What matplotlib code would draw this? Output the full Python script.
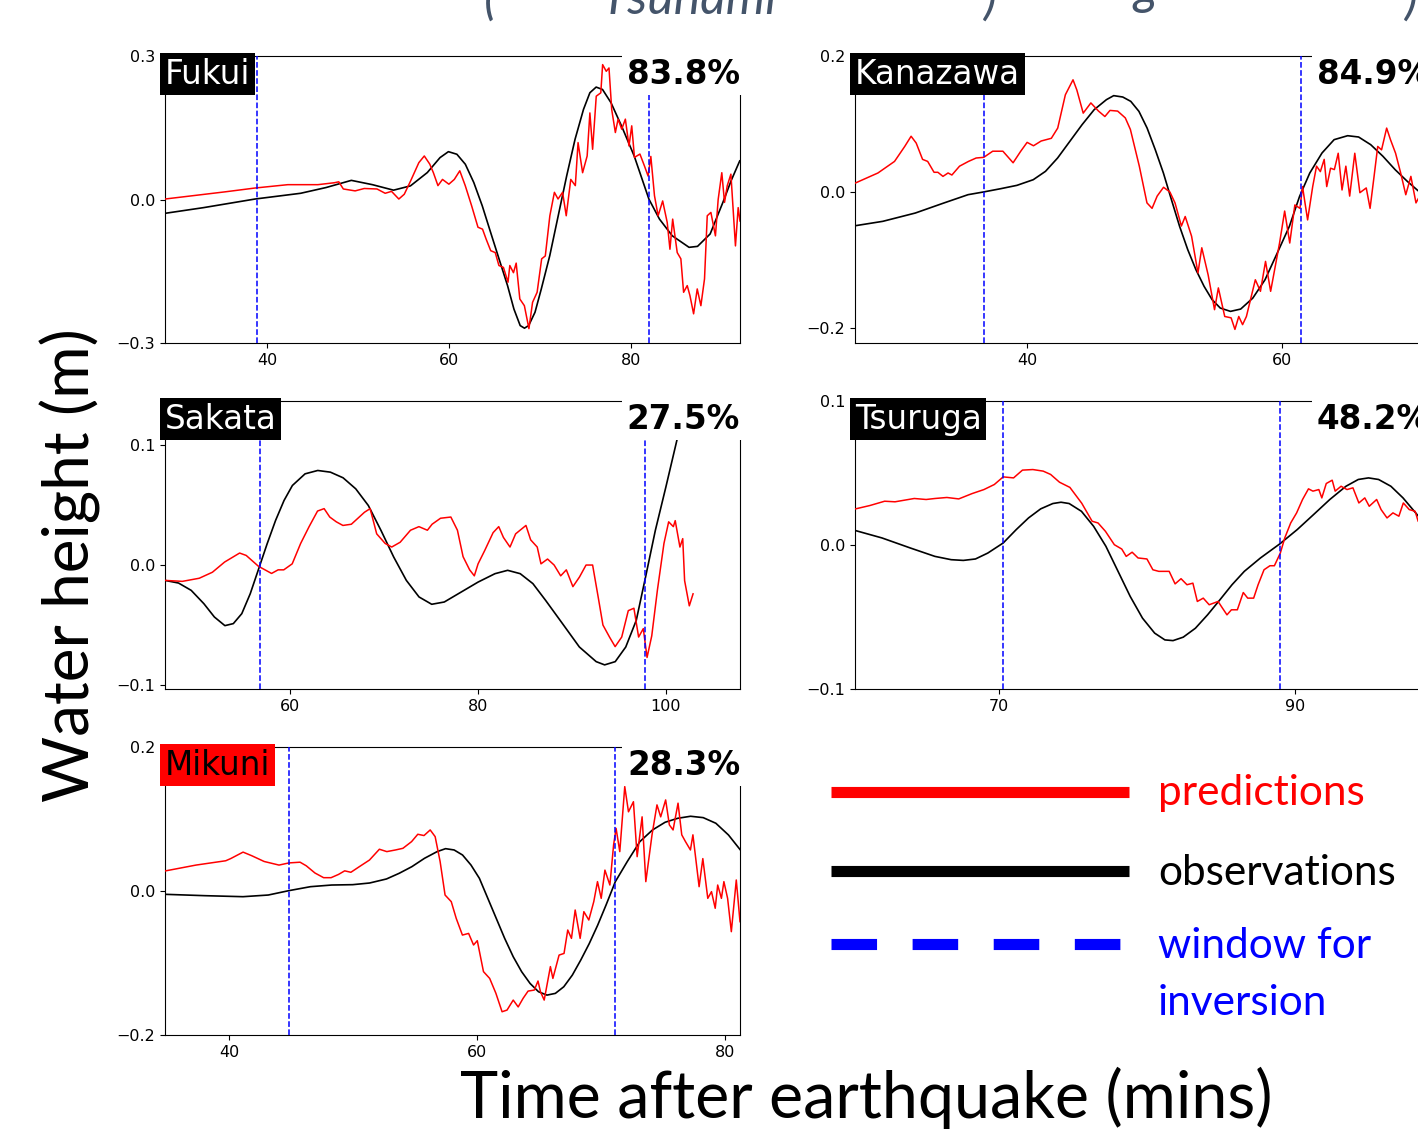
import matplotlib
matplotlib.use("Agg")
import matplotlib.pyplot as plt

W, H = 1418, 1130  # output size in pixels

SLIDE_FONT = ["Lato", "DejaVu Sans"]
TITLE_COLOR = "#44546A"

# ---------------- data ----------------
station_names = ["Fukui", "Kanazawa", "Sakata", "Tsuruga", "Mikuni"]
fit_percent = ["83.8", "84.9", "27.5", "48.2", "28.3"]

fukui_t_obs = [28.77, 33.04, 38.70, 43.71, 46.50, 49.28, 51.60, 53.92, 55.78, 57.63, 59.03, 59.95,
               60.88, 61.81, 62.74, 63.67, 64.59, 65.52, 66.45, 67.15, 67.84, 68.31, 68.77, 69.47,
               70.16, 71.09, 72.02, 72.95, 73.87, 74.80, 75.50, 76.19, 76.89, 77.82, 78.98, 80.37,
               81.99, 83.15, 84.55, 86.40, 87.33, 88.72, 90.12, 91.04, 91.97]
fukui_h_obs = [-0.029, -0.017, 0.001, 0.013, 0.025, 0.040, 0.031, 0.0195, 0.0285, 0.0563, 0.0876,
               0.100, 0.0946, 0.0737, 0.0355, -0.0132, -0.0688, -0.1245, -0.180, -0.229, -0.2636,
               -0.269, -0.2636, -0.2357, -0.187, -0.1175, -0.034, 0.0494, 0.1259, 0.1885, 0.2232,
               0.235, 0.230, 0.2024, 0.1537, 0.091, 0.0007, -0.041, -0.0758, -0.100, -0.098,
               -0.072, -0.006, 0.040, 0.0807]
fukui_t_pred = [28.8, 35.4, 38.7, 42.3, 45.6, 47.4, 47.9, 48.4, 49.7, 50.7, 52.1, 53.0, 53.7, 54.5,
                55.1, 55.8, 56.7, 57.3, 57.9, 58.3, 58.8, 59.3, 60.0, 60.6, 61.2, 61.8, 62.5, 63.2,
                63.7, 64.1, 64.6, 65.1, 65.5, 66.0, 66.5, 66.7, 67.1, 67.4, 67.8, 68.3, 68.8, 69.2,
                69.7, 70.2, 70.6, 71.1, 71.6, 72.0, 72.5, 72.9, 73.4, 73.9, 74.2, 74.7, 75.2, 75.5,
                75.8, 76.2, 76.7, 76.9, 77.3, 77.6, 77.9, 78.3, 78.6, 79.0, 79.4, 79.8, 80.1, 80.4,
                81.0, 81.5, 81.9, 82.2, 82.6, 83.0, 83.5, 84.0, 84.3, 84.6, 85.1, 85.5, 85.8, 86.2,
                86.5, 86.9, 87.3, 87.7, 88.1, 88.4, 88.8, 89.3, 89.6, 90.0, 90.3, 90.6, 91.0, 91.5,
                91.8, 92.0]
fukui_h_pred = [0.001, 0.016, 0.024, 0.031, 0.031, 0.035, 0.037, 0.022, 0.018, 0.023, 0.022, 0.013,
                0.017, 0.001, 0.011, 0.039, 0.077, 0.091, 0.074, 0.056, 0.029, 0.042, 0.032, 0.042,
                0.060, 0.029, -0.013, -0.058, -0.062, -0.083, -0.107, -0.111, -0.138, -0.142,
                -0.173, -0.138, -0.153, -0.133, -0.208, -0.222, -0.270, -0.215, -0.194, -0.124,
                -0.118, -0.034, 0.015, 0.001, 0.015, -0.034, 0.042, 0.029, 0.119, 0.056, 0.091,
                0.181, 0.105, 0.216, 0.223, 0.282, 0.268, 0.275, 0.188, 0.140, 0.168, 0.147, 0.168,
                0.112, 0.154, 0.088, 0.095, 0.070, 0.049, 0.090, 0.008, -0.034, -0.003, -0.048,
                -0.104, -0.041, -0.111, -0.124, -0.194, -0.180, -0.201, -0.239, -0.187, -0.222,
                -0.166, -0.034, -0.027, -0.076, 0.0, 0.056, -0.006, 0.029, 0.053, -0.097, -0.017,
                -0.045]

kanazawa_t_obs = [26.54, 28.68, 31.23, 33.46, 35.37, 36.56, 37.93, 39.20, 40.48, 41.44, 42.39,
                  43.35, 44.31, 45.26, 46.22, 46.79, 47.50, 48.13, 48.77, 49.41, 50.05, 50.69,
                  51.32, 51.96, 52.60, 53.24, 53.88, 54.51, 55.15, 55.95, 56.75, 57.70, 58.66,
                  59.62, 60.57, 61.37, 62.17, 63.13, 64.08, 65.14, 66.00, 66.95, 67.91, 68.87,
                  69.82, 70.72, 71.60]
kanazawa_h_obs = [-0.0495, -0.0431, -0.0309, -0.0162, -0.0039, 0.0, 0.0049, 0.0098, 0.0181,
                  0.0304, 0.0500, 0.0745, 0.0990, 0.1211, 0.1358, 0.1417, 0.1397, 0.1333, 0.1186,
                  0.0941, 0.0623, 0.0279, -0.0113, -0.0505, -0.0848, -0.1142, -0.1387, -0.1583,
                  -0.1706, -0.1755, -0.1721, -0.156, -0.129, -0.0897, -0.0505, -0.0064, 0.0279,
                  0.0574, 0.0770, 0.0828, 0.0809, 0.0696, 0.0525, 0.0328, 0.0157, 0.0010, -0.012]
kanazawa_t_pred = [26.5, 28.3, 29.6, 30.4, 30.9, 31.3, 31.8, 32.2, 32.7, 33.0, 33.4, 33.8, 34.1,
                   34.7, 35.4, 36.0, 36.6, 37.3, 38.1, 38.9, 39.5, 40.0, 40.5, 41.1, 41.9, 42.4,
                   43.0, 43.6, 43.9, 44.4, 45.0, 45.6, 46.1, 46.5, 47.1, 47.7, 48.1, 48.8, 49.4,
                   49.8, 50.2, 50.7, 51.2, 51.6, 52.1, 52.4, 52.9, 53.4, 53.7, 54.2, 54.7, 55.0,
                   55.5, 56.0, 56.3, 56.6, 56.9, 57.2, 57.9, 58.3, 58.7, 59.1, 59.8, 60.2, 60.6,
                   61.0, 61.4, 61.6, 62.0, 62.4, 62.7, 63.0, 63.3, 63.5, 63.8, 64.1, 64.4, 64.7,
                   65.0, 65.3, 65.7, 66.1, 66.6, 66.9, 67.2, 67.5, 67.8, 68.2, 68.5, 68.9, 69.3,
                   69.7, 70.1, 70.5, 70.7, 71.3]
kanazawa_h_pred = [0.013, 0.028, 0.045, 0.067, 0.082, 0.072, 0.048, 0.045, 0.029, 0.029, 0.023,
                   0.028, 0.025, 0.038, 0.045, 0.050, 0.051, 0.060, 0.060, 0.043, 0.060, 0.073,
                   0.068, 0.075, 0.079, 0.094, 0.143, 0.165, 0.150, 0.116, 0.131, 0.119, 0.111,
                   0.120, 0.119, 0.109, 0.092, 0.038, -0.016, -0.024, -0.006, 0.007, 0.0, -0.016,
                   -0.050, -0.036, -0.065, -0.119, -0.082, -0.122, -0.173, -0.141, -0.183, -0.185,
                   -0.202, -0.183, -0.195, -0.183, -0.129, -0.146, -0.102, -0.146, -0.075, -0.028,
                   -0.075, -0.019, -0.024, 0.008, -0.041, 0.008, 0.038, 0.030, 0.048, 0.008, 0.035,
                   0.033, 0.057, 0.003, 0.038, -0.006, 0.057, -0.001, 0.006, -0.024, 0.021, 0.067,
                   0.062, 0.094, 0.077, 0.057, 0.028, -0.004, 0.023, -0.016, -0.009, -0.020]

sakata_t_obs = [46.65, 48.09, 49.44, 50.79, 51.91, 53.03, 53.93, 54.83, 55.73, 56.63, 57.53,
                58.43, 59.33, 60.22, 61.57, 62.92, 64.27, 65.62, 66.97, 68.31, 69.66, 71.01,
                72.36, 73.71, 75.06, 76.40, 78.20, 80.00, 81.80, 83.15, 84.49, 85.84, 87.19,
                88.99, 90.79, 92.58, 93.48, 94.61, 95.73, 96.85, 97.84, 98.88, 100.0, 101.21,
                102.02, 102.9]
sakata_h_obs = [-0.0128, -0.0150, -0.0211, -0.0322, -0.0433, -0.0505, -0.0488, -0.0405, -0.0239,
                -0.0031, 0.0177, 0.0372, 0.0538, 0.0663, 0.0760, 0.0788, 0.0774, 0.0727, 0.0635,
                0.0496, 0.0288, 0.0067, -0.0128, -0.0266, -0.0327, -0.0308, -0.0225, -0.0142,
                -0.0072, -0.0044, -0.0072, -0.0155, -0.0294, -0.0488, -0.0683, -0.0805, -0.0832,
                -0.0805, -0.0683, -0.0461, -0.0100, 0.0288, 0.0649, 0.1051, 0.1287, 0.150]
sakata_t_pred = [46.65, 48.5, 50.3, 51.7, 53.0, 54.6, 55.3, 56.6, 58.0, 58.7, 59.3, 60.2, 61.1,
                 62.0, 62.9, 63.6, 64.2, 64.9, 65.6, 66.5, 67.2, 67.9, 68.5, 69.2, 70.1, 70.8,
                 71.7, 72.8, 73.7, 74.6, 75.1, 76.0, 77.1, 77.8, 78.4, 79.1, 79.6, 80.0, 80.7,
                 81.6, 82.2, 82.7, 83.4, 84.0, 85.1, 85.6, 86.3, 86.7, 87.4, 88.1, 88.8, 89.4,
                 90.1, 90.8, 91.5, 92.2, 92.8, 93.3, 94.0, 94.6, 95.3, 96.0, 96.6, 97.1, 97.6,
                 98.0, 98.5, 99.1, 99.8, 100.3, 100.8, 101.0, 101.5, 101.8, 102.0, 102.5, 102.9]
sakata_h_pred = [-0.0128, -0.0136, -0.011, -0.006, 0.0025, 0.010, 0.008, -0.001, -0.007, -0.004,
                 -0.004, 0.001, 0.018, 0.032, 0.045, 0.047, 0.040, 0.036, 0.033, 0.034, 0.039,
                 0.044, 0.047, 0.026, 0.018, 0.015, 0.019, 0.029, 0.032, 0.029, 0.034, 0.039,
                 0.040, 0.029, 0.007, -0.004, -0.009, 0.001, 0.012, 0.027, 0.032, 0.023, 0.015,
                 0.026, 0.033, 0.021, 0.015, 0.001, 0.005, 0.0, -0.009, -0.004, -0.018, -0.010,
                 0.0, 0.0, -0.027, -0.050, -0.060, -0.068, -0.060, -0.038, -0.036, -0.060, -0.053,
                 -0.077, -0.059, -0.021, 0.018, 0.036, 0.032, 0.037, 0.015, 0.022, -0.013, -0.034,
                 -0.024]

tsuruga_t_obs = [60.27, 62.12, 64.04, 65.69, 66.79, 67.61, 68.43, 69.26, 70.30, 71.18, 72.01,
                 72.83, 73.65, 74.20, 74.75, 75.58, 76.40, 77.23, 78.05, 78.87, 79.70, 80.52,
                 81.21, 81.76, 82.45, 83.27, 84.09, 84.92, 85.74, 86.57, 87.66, 88.98, 90.14,
                 91.24, 92.34, 93.43, 94.26, 94.95, 95.63, 96.46, 97.28, 98.32, 99.1]
tsuruga_h_obs = [0.0102, 0.0049, -0.0021, -0.0079, -0.0102, -0.0107, -0.0097, -0.0056, 0.0014,
                 0.0107, 0.0188, 0.0251, 0.0288, 0.0297, 0.0288, 0.0234, 0.0130, -0.0009,
                 -0.0183, -0.0357, -0.0508, -0.0612, -0.0659, -0.0664, -0.0640, -0.0578, -0.0485,
                 -0.0381, -0.0276, -0.0183, -0.0090, 0.0009, 0.0107, 0.0211, 0.0316, 0.0408,
                 0.0455, 0.0466, 0.0455, 0.0408, 0.0327, 0.0200, 0.012]
tsuruga_t_pred = [60.3, 61.3, 62.3, 63.0, 64.3, 65.1, 65.7, 66.5, 67.3, 68.2, 69.0, 69.7, 70.3,
                  71.0, 71.6, 72.3, 73.0, 73.5, 74.1, 74.8, 75.6, 76.3, 76.7, 77.2, 77.8, 78.3,
                  78.6, 79.0, 79.4, 80.0, 80.4, 80.8, 81.5, 81.9, 82.3, 82.7, 83.1, 83.4, 83.8,
                  84.2, 84.8, 85.1, 85.4, 85.7, 86.1, 86.5, 86.8, 87.2, 87.5, 87.9, 88.3, 88.6,
                  89.0, 89.3, 89.7, 90.1, 90.5, 90.9, 91.2, 91.6, 91.8, 92.1, 92.5, 92.7, 93.1,
                  93.5, 93.9, 94.3, 94.7, 95.0, 95.5, 95.8, 96.2, 96.6, 97.0, 97.3, 97.7, 98.1,
                  98.3, 99.0]
tsuruga_h_pred = [0.025, 0.0274, 0.0304, 0.030, 0.0323, 0.0316, 0.0323, 0.033, 0.032, 0.0357,
                  0.0385, 0.042, 0.0473, 0.0466, 0.052, 0.0524, 0.0513, 0.049, 0.0436, 0.040,
                  0.029, 0.0165, 0.0153, 0.0095, 0.0002, -0.0028, -0.0079, -0.005, -0.009,
                  -0.0097, -0.0172, -0.0183, -0.0183, -0.027, -0.0234, -0.0276, -0.0265, -0.0392,
                  -0.0369, -0.0415, -0.0392, -0.0439, -0.0485, -0.045, -0.045, -0.033, -0.0369,
                  -0.0369, -0.0276, -0.0172, -0.0144, -0.0144, -0.0056, 0.0049, 0.0153, 0.0223,
                  0.0316, 0.039, 0.0374, 0.0385, 0.0327, 0.0427, 0.045, 0.0374, 0.0408, 0.0385,
                  0.0397, 0.0292, 0.0327, 0.0269, 0.0316, 0.0246, 0.0188, 0.0223, 0.020, 0.0292,
                  0.0246, 0.0234, 0.0165, 0.010]

mikuni_t_obs = [34.79, 38.02, 41.09, 43.13, 44.80, 46.54, 48.25, 49.95, 51.31, 52.67, 53.70,
                54.72, 55.74, 56.76, 57.44, 58.13, 58.81, 59.49, 60.17, 60.85, 61.53, 62.21,
                62.90, 63.58, 64.26, 64.94, 65.62, 66.30, 66.98, 67.67, 68.35, 69.03, 69.71,
                70.39, 71.14, 72.10, 73.12, 74.14, 75.16, 76.18, 77.21, 78.23, 79.25, 80.27,
                81.23]
mikuni_h_obs = [-0.0046, -0.0065, -0.0079, -0.0056, 0.0005, 0.0060, 0.0083, 0.0088, 0.0111,
                0.0167, 0.0246, 0.0338, 0.0454, 0.0547, 0.0588, 0.0570, 0.0500, 0.0361, 0.0176,
                -0.0102, -0.0380, -0.0658, -0.0913, -0.1121, -0.1284, -0.1399, -0.1446, -0.1422,
                -0.1330, -0.1168, -0.0959, -0.0732, -0.0477, -0.0195, 0.0130, 0.0408, 0.0686,
                0.0848, 0.0955, 0.1010, 0.1038, 0.1019, 0.0941, 0.0778, 0.0570]
mikuni_t_pred = [34.8, 37.3, 39.7, 40.1, 41.1, 41.8, 42.8, 44.0, 44.8, 45.7, 46.2, 46.9, 47.6,
                 48.2, 48.8, 49.3, 49.8, 50.5, 51.3, 52.1, 52.7, 53.4, 54.0, 54.7, 55.2, 55.7,
                 56.2, 56.6, 57.0, 57.4, 57.9, 58.3, 58.8, 59.3, 59.7, 60.0, 60.5, 61.0, 61.5,
                 62.0, 62.4, 62.9, 63.3, 63.7, 64.1, 64.6, 64.9, 65.1, 65.4, 65.9, 66.1, 66.6,
                 67.0, 67.3, 67.6, 67.9, 68.3, 68.6, 69.0, 69.4, 69.7, 70.0, 70.3, 70.7, 71.0,
                 71.2, 71.5, 71.9, 72.2, 72.6, 72.9, 73.3, 73.6, 74.1, 74.5, 74.8, 75.2, 75.5,
                 75.8, 76.2, 76.5, 76.8, 77.2, 77.4, 77.9, 78.2, 78.6, 78.9, 79.2, 79.4, 79.7,
                 79.9, 80.2, 80.5, 80.9, 81.2]
mikuni_h_pred = [0.0278, 0.036, 0.042, 0.045, 0.054, 0.049, 0.041, 0.036, 0.039, 0.040, 0.035,
                 0.025, 0.0185, 0.0185, 0.023, 0.028, 0.026, 0.034, 0.043, 0.058, 0.0547, 0.057,
                 0.0593, 0.0686, 0.0788, 0.077, 0.0848, 0.0755, 0.041, -0.0056, -0.0148, -0.038,
                 -0.0612, -0.0589, -0.075, -0.069, -0.112, -0.1214, -0.142, -0.1677, -0.1654,
                 -0.1515, -0.161, -0.149, -0.139, -0.1376, -0.125, -0.140, -0.1515, -0.105,
                 -0.1214, -0.089, -0.0867, -0.0542, -0.0658, -0.0264, -0.0658, -0.0287, -0.0403,
                 -0.0148, 0.013, -0.0102, 0.029, 0.0083, 0.064, 0.087, 0.0547, 0.145, 0.110,
                 0.124, 0.0477, 0.103, 0.013, 0.078, 0.1196, 0.103, 0.1265, 0.0918, 0.0848, 0.122,
                 0.078, 0.0686, 0.057, 0.078, 0.006, 0.045, -0.0102, -0.0009, -0.024, 0.0083,
                 -0.0102, 0.013, -0.0102, -0.0565, 0.0153, -0.0426]

# start / end of the inversion window (mins)
window_start = [38.9, 36.6, 56.8, 70.3, 44.8]
window_end = [82.0, 61.5, 97.8, 89.0, 71.1]

legend_labels = ["predictions", "observations", "window for", "inversion"]


def px_axes(fig, x0, y0, x1, y1):
    """axes from a pixel box (top-left origin)"""
    return fig.add_axes([x0 / W, 1 - y1 / H, (x1 - x0) / W, (y1 - y0) / H])


def draw_station(ax, name, pct, t_obs, h_obs, t_pred, h_pred, win, xlim, ylim, xticks, yticks,
                 label_bg="black", label_fg="white"):
    ax.plot(t_obs, h_obs, color="black", lw=1.2, zorder=2)
    ax.plot(t_pred, h_pred, color="red", lw=1.1, zorder=3)
    for w in win:
        ax.axvline(w, color="blue", ls="--", lw=1.1, zorder=4)
    ax.set_xlim(*xlim)
    ax.set_ylim(*ylim)
    ax.set_xticks(xticks)
    ax.set_yticks(yticks)
    ax.tick_params(labelsize=11.5, length=3.5, width=0.8)
    for sp in ax.spines.values():
        sp.set_linewidth(0.8)
    ax.text(0.0, 0.994, name, transform=ax.transAxes, ha="left", va="top", fontsize=23.5,
            color=label_fg, zorder=10, clip_on=False,
            bbox=dict(boxstyle="square,pad=0.14", fc=label_bg, ec="none"))
    ax.text(1.0, 0.994, pct + "%", transform=ax.transAxes, ha="right", va="top", fontsize=23.5,
            fontweight="bold", color="black", zorder=10, clip_on=False,
            bbox=dict(boxstyle="square,pad=0.14", fc="white", ec="none"))


fig = plt.figure(figsize=(W / 100, H / 100), dpi=100)

ax = px_axes(fig, 165, 56, 740, 343)
draw_station(ax, station_names[0], fit_percent[0], fukui_t_obs, fukui_h_obs, fukui_t_pred,
             fukui_h_pred, (window_start[0], window_end[0]), (28.8, 92.0), (-0.3, 0.3),
             [40, 60, 80], [-0.3, 0.0, 0.3])

ax = px_axes(fig, 855, 56, 1430, 343)
draw_station(ax, station_names[1], fit_percent[1], kanazawa_t_obs, kanazawa_h_obs,
             kanazawa_t_pred, kanazawa_h_pred, (window_start[1], window_end[1]), (26.5, 71.6),
             (-0.222, 0.2), [40, 60], [-0.2, 0.0, 0.2])

ax = px_axes(fig, 165, 401, 740, 689)
draw_station(ax, station_names[2], fit_percent[2], sakata_t_obs, sakata_h_obs, sakata_t_pred,
             sakata_h_pred, (window_start[2], window_end[2]), (46.65, 107.9), (-0.1033, 0.1367),
             [60, 80, 100], [-0.1, 0.0, 0.1])

ax = px_axes(fig, 855, 401, 1430, 689)
draw_station(ax, station_names[3], fit_percent[3], tsuruga_t_obs, tsuruga_h_obs, tsuruga_t_pred,
             tsuruga_h_pred, (window_start[3], window_end[3]), (60.3, 99.1), (-0.1, 0.1),
             [70, 90], [-0.1, 0.0, 0.1])

ax = px_axes(fig, 165, 747, 740, 1035)
draw_station(ax, station_names[4], fit_percent[4], mikuni_t_obs, mikuni_h_obs, mikuni_t_pred,
             mikuni_h_pred, (window_start[4], window_end[4]), (34.8, 81.2), (-0.2, 0.2),
             [40, 60, 80], [-0.2, 0.0, 0.2], label_bg="red", label_fg="black")

# overlay in pixel units for the slide text and hand-made legend
ov = fig.add_axes([0, 0, 1, 1])
ov.set_xlim(0, W)
ov.set_ylim(H, 0)
ov.axis("off")

ov.text(866, 1118, "Time after earthquake (mins)", ha="center", va="baseline", fontsize=46.5,
        family=SLIDE_FONT, color="black")
ov.text(90, 565, "Water height (m)", ha="center", va="baseline", rotation=90, fontsize=46,
        family=SLIDE_FONT, color="black", rotation_mode="anchor")

# legend
ov.plot([831, 1129], [792, 792], color="red", lw=8, solid_capstyle="butt")
ov.plot([831, 1129], [871, 871], color="black", lw=8, solid_capstyle="butt")
ov.plot([831, 1129], [944, 944], color="blue", lw=8, dashes=(4.1, 3.2), dash_capstyle="butt")
ov.text(1158, 805, legend_labels[0], color="red", fontsize=30.5, family=SLIDE_FONT, va="baseline")
ov.text(1158, 885, legend_labels[1], color="black", fontsize=30.5, family=SLIDE_FONT,
        va="baseline")
ov.text(1158, 958, legend_labels[2], color="blue", fontsize=30.5, family=SLIDE_FONT,
        va="baseline")
ov.text(1158, 1015, legend_labels[3], color="blue", fontsize=30.5, family=SLIDE_FONT,
        va="baseline")

# cut-off slide title at the top
for x, s in [(484, "("), (600, "Tsunami"), (984, ")"), (1405, ")")]:
    ov.text(x, 14, s, color=TITLE_COLOR, fontsize=36, style="italic", family=SLIDE_FONT,
            va="baseline", clip_on=False)
ov.text(1133, 3, "g", color=TITLE_COLOR, fontsize=36, style="italic", family=SLIDE_FONT,
        va="baseline", clip_on=False)

fig.savefig("out.png", dpi=100)
